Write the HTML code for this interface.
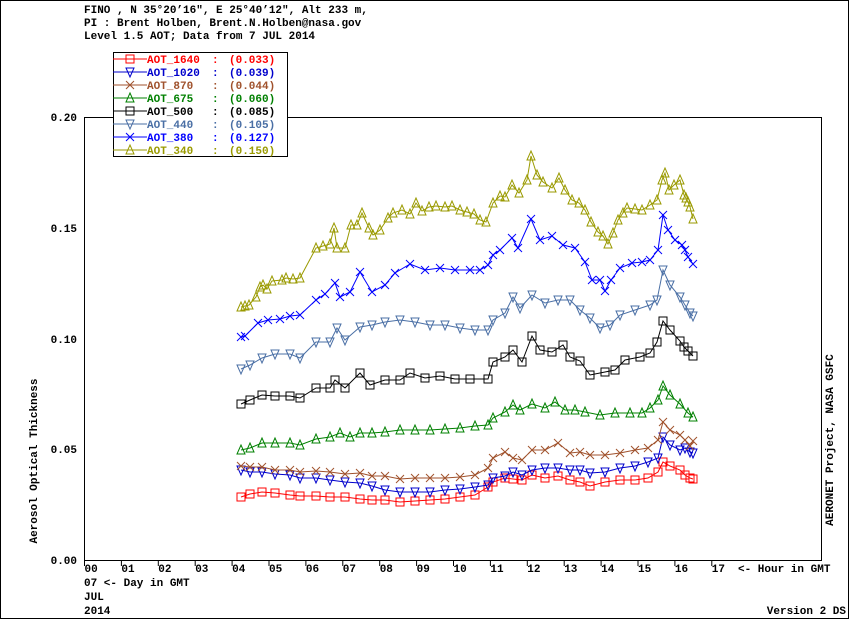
<!DOCTYPE html>
<html><head><meta charset="utf-8"><style>
body{margin:0;background:#fff}
svg text{font-family:"Liberation Mono",monospace;font-weight:bold;font-size:11px}
</style></head><body>
<svg id="s" width="850" height="620" xmlns="http://www.w3.org/2000/svg">
<rect x="0.5" y="0.5" width="848" height="618" fill="#fff" stroke="#000"/>
<text x="84" y="13">FINO , N 35°20’16", E 25°40’12", Alt 233 m,</text>
<text x="84" y="26">PI : Brent Holben, Brent.N.Holben@nasa.gov</text>
<text x="84" y="39">Level 1.5 AOT; Data from 7 JUL 2014</text>
<rect x="84.5" y="117.5" width="737" height="443" fill="none" stroke="#000"/>
<g text-anchor="end">
<text x="77" y="121">0.20</text><text x="77" y="232">0.15</text><text x="77" y="343">0.10</text><text x="77" y="453">0.05</text><text x="77" y="564">0.00</text>
</g>
<g id="xt"></g>
<text x="738" y="572">&lt;- Hour in GMT</text>
<text x="84" y="586">07  &lt;- Day in GMT</text>
<text x="84" y="600">JUL</text>
<text x="84" y="614">2014</text>
<text x="846" y="614" text-anchor="end">Version 2 DS</text>
<text transform="translate(37,461) rotate(-90)" text-anchor="middle">Aerosol Optical Thickness</text>
<text transform="translate(833,440) rotate(-90)" text-anchor="middle">AERONET Project, NASA GSFC</text>
<g id="d"></g>
<rect x="113.5" y="52.5" width="174" height="104" fill="#fff" stroke="#000"/>
<g id="lg"></g>
</svg>
<script>
var ns="http://www.w3.org/2000/svg";
function el(p,t,a,tx){var e=document.createElementNS(ns,t);for(var k in a)e.setAttribute(k,a[k]);if(tx!=null)e.textContent=tx;p.appendChild(e);return e;}
var xt=document.getElementById('xt');
for(var h=0;h<=17;h++){var x=84.5+h*36.9;el(xt,'line',{x1:x,y1:560,x2:x,y2:566,stroke:'#000'});el(xt,'text',{x:x,y:572},(h<10?'0':'')+h);}
function mk(g,type,x,y,c){
 var r=4;
 if(type=='sq')el(g,'rect',{x:x-r,y:y-r,width:2*r,height:2*r,fill:'none',stroke:c});
 else if(type=='td')el(g,'polygon',{points:(x-r)+','+(y-r)+' '+(x+r)+','+(y-r)+' '+x+','+(y+r+1),fill:'none',stroke:c});
 else if(type=='tu')el(g,'polygon',{points:(x-r)+','+(y+r)+' '+(x+r)+','+(y+r)+' '+x+','+(y-r-1),fill:'none',stroke:c});
 else {el(g,'line',{x1:x-r,y1:y-r,x2:x+r,y2:y+r,stroke:c});el(g,'line',{x1:x-r,y1:y+r,x2:x+r,y2:y-r,stroke:c});}
}
var S=[
['AOT_1640','(0.033)','#ff0000','sq',[241,497,250,494,262,492,275,493,290,495,300,496,316,496,330,497,345,497,360,499,372,500,385,500,400,502,415,501,430,500,445,499,460,497,475,495,488,487,493,482,505,478,513,479,522,480,532,475,545,478,558,476,570,480,580,482,590,486,605,482,620,480,635,480,648,478,658,472,663,462,670,466,680,470,685,475,690,478,693,479]],
['AOT_1020','(0.039)','#0000cc','td',[241,470,250,472,262,472,275,474,290,475,300,478,316,478,330,480,345,482,360,483,372,486,385,490,400,492,415,492,430,492,445,490,460,489,475,487,488,485,493,478,505,476,513,472,522,475,532,470,545,468,558,468,570,470,580,470,590,473,605,472,620,468,635,466,648,462,658,458,663,437,670,445,680,450,685,448,690,452,693,453]],
['AOT_870','(0.044)','#a0522d','x',[241,466,250,467,262,467,275,470,290,470,300,472,316,471,330,472,345,474,360,473,372,476,385,476,400,479,415,478,430,478,445,478,460,477,475,475,488,468,493,458,505,452,513,458,522,460,532,450,545,450,558,443,570,453,580,452,590,455,605,455,620,453,635,450,648,448,658,440,663,422,670,430,680,435,685,440,690,446,693,441]],
['AOT_675','(0.060)','#008000','tu',[241,450,250,448,262,443,275,443,290,443,300,445,316,439,330,437,340,433,350,437,360,433,372,433,385,432,400,430,415,430,430,430,445,429,460,428,475,426,488,425,493,418,505,412,513,405,520,410,532,404,545,408,555,402,565,410,575,410,585,412,600,415,615,413,630,413,642,413,650,408,658,400,663,386,670,395,680,404,688,413,693,417]],
['AOT_500','(0.085)','#000000','sq',[241,404,250,400,262,395,275,396,290,396,300,398,316,388,330,388,335,380,345,388,360,373,370,385,385,380,400,380,410,373,425,378,440,376,455,379,470,379,488,379,493,362,505,357,513,350,522,362,532,336,540,350,552,352,563,345,570,357,580,361,590,375,605,372,615,370,625,360,640,357,650,353,657,342,663,321,670,330,680,341,684,347,688,351,693,356]],
['AOT_440','(0.105)','#4a6fa5','td',[241,369,250,365,262,358,275,354,290,354,300,358,316,342,330,342,337,328,345,340,360,327,372,325,385,322,400,320,415,322,430,325,445,325,460,328,475,330,488,330,493,320,505,313,513,297,520,308,532,295,545,303,558,300,570,300,580,310,590,318,600,328,610,325,620,315,635,310,650,305,657,300,663,270,670,285,680,297,685,305,690,313,693,316]],
['AOT_380','(0.127)','#0000ff','x',[241,337,245,336,258,323,268,320,280,319,290,316,300,315,316,300,325,294,335,283,340,297,350,292,360,272,372,292,385,285,395,273,410,264,425,270,440,268,455,270,470,270,480,270,488,265,493,255,500,250,512,238,518,248,531,219,540,240,552,236,563,245,575,248,585,262,592,280,600,280,605,291,611,280,620,268,632,263,642,262,650,260,658,250,663,215,668,230,675,240,682,245,685,250,688,257,693,264]],
['AOT_340','(0.150)','#9a9a00','tu',[241,307,245,306,249,305,256,297,260,287,263,285,267,289,272,281,282,280,286,278,293,279,300,278,316,248,323,246,330,244,334,228,337,248,345,248,351,225,357,225,362,213,369,228,373,235,380,230,388,218,393,213,402,210,410,214,416,203,422,211,429,207,436,206,445,207,452,206,460,210,467,212,474,214,480,220,486,222,493,203,500,196,505,197,512,185,519,193,527,180,531,156,537,175,543,182,552,188,559,178,565,190,572,200,579,203,585,210,591,222,598,232,603,236,608,244,613,233,618,220,623,213,627,208,635,209,642,210,650,205,657,200,662,180,665,173,669,190,674,185,680,180,684,195,686,198,688,202,690,207,693,219]]
];
var d=document.getElementById('d'),lg=document.getElementById('lg');
S.forEach(function(s,i){
 var p=s[4],pts=[];for(var j=0;j<p.length;j+=2)pts.push(p[j]+','+p[j+1]);
 el(d,'polyline',{points:pts.join(' '),fill:'none',stroke:s[2],'stroke-width':1});
 for(var j=0;j<p.length;j+=2)mk(d,s[3],p[j],p[j+1],s[2]);
 var y=59+i*13;
 el(lg,'line',{x1:113,y1:y,x2:147,y2:y,stroke:s[2]});
 mk(lg,s[3],130,y,s[2]);
 el(lg,'text',{x:147,y:y+4,fill:s[2]},s[0]);
 el(lg,'text',{x:212,y:y+4,fill:s[2]},':');
 el(lg,'text',{x:229,y:y+4,fill:s[2]},s[1]);
});
</script>
</body></html>
